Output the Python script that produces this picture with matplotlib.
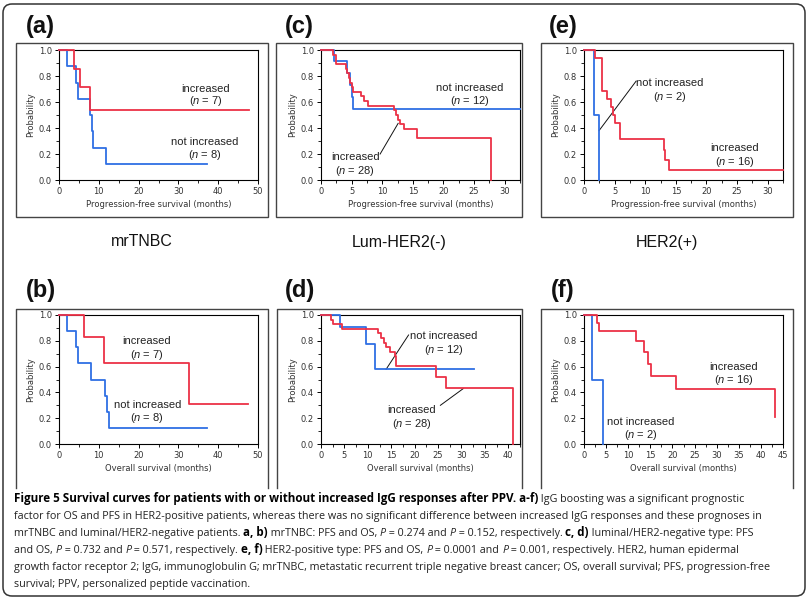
import matplotlib
matplotlib.use("Agg")
import matplotlib.pyplot as plt
from matplotlib.patches import FancyBboxPatch, Rectangle
from matplotlib.ticker import MultipleLocator, FormatStrFormatter

W, H = 811, 602
RED = "#ec3146"
BLUE = "#2f6fe4"
TXT = "#222222"

plt.rcParams["mathtext.fontset"] = "custom"
plt.rcParams["mathtext.rm"] = "Liberation Sans"
plt.rcParams["mathtext.it"] = "Liberation Sans:italic"

# ---- Kaplan-Meier steps (time in months, survival) ----
# (a) mrTNBC, PFS
a_inc_t = [0, 3.7, 5.3, 7.7]
a_inc_s = [1.0, 0.857, 0.714, 0.536]
a_inc_end = 47.7
a_not_t = [0, 2.1, 4.2, 4.8, 7.7, 8.2, 8.5, 11.7]
a_not_s = [1.0, 0.875, 0.75, 0.625, 0.5, 0.375, 0.25, 0.125]
a_not_end = 37.2

# (b) mrTNBC, OS
b_inc_t = [0, 6.2, 11.3, 32.6]
b_inc_s = [1.0, 0.833, 0.625, 0.3125]
b_inc_end = 47.6
b_not_t = [0, 2.1, 4.3, 4.7, 8.1, 11.6, 12.1, 12.6]
b_not_s = [1.0, 0.875, 0.75, 0.625, 0.5, 0.375, 0.25, 0.125]
b_not_end = 37.2

# (c) Lum-HER2(-), PFS
c_inc_t = [0, 2.0, 2.4, 4.1, 4.3, 4.6, 4.8, 5.0, 5.2, 6.6, 7.1, 7.7,
           12.0, 12.3, 12.5, 12.9, 13.6, 15.6, 27.8]
c_inc_s = [1.0, 0.964, 0.893, 0.857, 0.821, 0.786, 0.75, 0.714, 0.679, 0.643, 0.607, 0.571,
           0.536, 0.5, 0.464, 0.429, 0.393, 0.321, 0.0]
c_inc_end = 27.8
c_not_t = [0, 2.1, 4.2, 4.8, 5.0, 5.3]
c_not_s = [1.0, 0.917, 0.825, 0.733, 0.642, 0.545]
c_not_end = 32.5

# (d) Lum-HER2(-), OS
d_inc_t = [0, 2.1, 2.5, 4.4, 12.1, 12.8, 13.4, 13.9, 14.7, 15.7, 16.1, 24.6, 26.7, 40.9]
d_inc_s = [1.0, 0.964, 0.929, 0.893, 0.857, 0.821, 0.786, 0.75, 0.714, 0.679, 0.607, 0.52, 0.434, 0.0]
d_inc_end = 40.9
d_not_t = [0, 4.1, 9.6, 11.6]
d_not_s = [1.0, 0.909, 0.773, 0.579]
d_not_end = 32.6

# (e) HER2(+), PFS
e_inc_t = [0, 1.75, 2.95, 3.8, 4.4, 4.7, 5.0, 5.8, 5.9, 13.1, 13.3, 13.9]
e_inc_s = [1.0, 0.9375, 0.6875, 0.625, 0.5625, 0.5, 0.4375, 0.375, 0.3125, 0.234, 0.156, 0.078]
e_inc_end = 32.5
e_not_t = [0, 1.65, 2.4]
e_not_s = [1.0, 0.5, 0.0]
e_not_end = 2.4

# (f) HER2(+), OS
f_inc_t = [0, 2.9, 3.3, 11.7, 13.6, 14.5, 15.1, 20.9, 43.1]
f_inc_s = [1.0, 0.9375, 0.875, 0.795, 0.715, 0.62, 0.53, 0.427, 0.213]
f_inc_end = 43.1
f_not_t = [0, 1.75, 4.2]
f_not_s = [1.0, 0.5, 0.0]
f_not_end = 4.2

group_labels = ["mrTNBC", "Lum-HER2(-)", "HER2(+)"]

caption_lines = [
    [("Figure 5 Survival curves for patients with or without increased IgG responses after PPV. a-f)", "bold", "normal"),
     (" IgG boosting was a significant prognostic", "normal", "normal")],
    [("factor for OS and PFS in HER2-positive patients, whereas there was no significant difference between increased IgG responses and these prognoses in", "normal", "normal")],
    [("mrTNBC and luminal/HER2-negative patients. ", "normal", "normal"), ("a, b)", "bold", "normal"),
     (" mrTNBC: PFS and OS, ", "normal", "normal"), ("P", "normal", "italic"),
     (" = 0.274 and ", "normal", "normal"), ("P", "normal", "italic"),
     (" = 0.152, respectively. ", "normal", "normal"), ("c, d)", "bold", "normal"),
     (" luminal/HER2-negative type: PFS", "normal", "normal")],
    [("and OS, ", "normal", "normal"), ("P", "normal", "italic"), (" = 0.732 and ", "normal", "normal"),
     ("P", "normal", "italic"), (" = 0.571, respectively. ", "normal", "normal"), ("e, f)", "bold", "normal"),
     (" HER2-positive type: PFS and OS, ", "normal", "normal"), ("P", "normal", "italic"),
     (" = 0.0001 and ", "normal", "normal"), ("P", "normal", "italic"),
     (" = 0.001, respectively. HER2, human epidermal", "normal", "normal")],
    [("growth factor receptor 2; IgG, immunoglobulin G; mrTNBC, metastatic recurrent triple negative breast cancer; OS, overall survival; PFS, progression-free", "normal", "normal")],
    [("survival; PPV, personalized peptide vaccination.", "normal", "normal")],
]

PFS = "Progression-free survival (months)"
OS = "Overall survival (months)"

# layout in pixels: axes (left, top, right, bottom), frame (left, top, right, bottom)
panels = [
    dict(tag="(a)", lab=(26, 26), ax=(59, 50, 258, 180), frame=(16, 43, 268, 217), closed=True,
         xmax=50, major=10, xlabel=PFS,
         inc=(a_inc_t, a_inc_s, a_inc_end), nt=(a_not_t, a_not_s, a_not_end),
         notes=[(36.8, 0.70, 0.606, "increased", 7), (36.6, 0.296, 0.193, "not increased", 8)],
         leaders=[]),
    dict(tag="(c)", lab=(285, 26), ax=(321, 50, 520, 180), frame=(276, 43, 522, 217), closed=True,
         xmax=32.5, major=5, xlabel=PFS,
         inc=(c_inc_t, c_inc_s, c_inc_end), nt=(c_not_t, c_not_s, c_not_end),
         notes=[(24.3, 0.705, 0.61, "not increased", 12), (5.6, 0.174, 0.072, "increased", 28)],
         leaders=[((9.66, 0.20), (12.6, 0.436))]),
    dict(tag="(e)", lab=(549, 26), ax=(584, 50, 783, 180), frame=(541, 43, 793, 217), closed=True,
         xmax=32.5, major=5, xlabel=PFS,
         inc=(e_inc_t, e_inc_s, e_inc_end), nt=(e_not_t, e_not_s, e_not_end),
         notes=[(14.0, 0.749, 0.636, "not increased", 2), (24.6, 0.249, 0.141, "increased", 16)],
         leaders=[((8.5, 0.76), (2.46, 0.38))]),
    dict(tag="(b)", lab=(26, 291), ax=(59, 315, 258, 444), frame=(16, 309, 268, 488), closed=False,
         xmax=50, major=10, xlabel=OS,
         inc=(b_inc_t, b_inc_s, b_inc_end), nt=(b_not_t, b_not_s, b_not_end),
         notes=[(22.1, 0.80, 0.69, "increased", 7), (22.2, 0.30, 0.20, "not increased", 8)],
         leaders=[]),
    dict(tag="(d)", lab=(285, 291), ax=(321, 315, 520, 444), frame=(277, 309, 522, 488), closed=False,
         xmax=42.5, major=5, xlabel=OS,
         inc=(d_inc_t, d_inc_s, d_inc_end), nt=(d_not_t, d_not_s, d_not_end),
         notes=[(26.2, 0.84, 0.73, "not increased", 12), (19.4, 0.264, 0.152, "increased", 28)],
         leaders=[((18.7, 0.845), (13.9, 0.579)), ((25.5, 0.30), (30.4, 0.43))]),
    dict(tag="(f)", lab=(551, 291), ax=(584, 315, 783, 444), frame=(541, 309, 793, 488), closed=False,
         xmax=45, major=5, xlabel=OS,
         inc=(f_inc_t, f_inc_s, f_inc_end), nt=(f_not_t, f_not_s, f_not_end),
         notes=[(33.9, 0.60, 0.496, "increased", 16), (12.8, 0.168, 0.07, "not increased", 2)],
         leaders=[]),
]


def km(ax, t, s, end, color):
    ax.step(list(t) + [end], list(s) + [s[-1]], where="post", color=color, lw=1.3,
            zorder=3, clip_on=False)


def plot_panel(fig, p):
    l, t, r, b = p["ax"]
    ax = fig.add_axes([l / W, 1 - b / H, (r - l) / W, (b - t) / H])
    km(ax, *p["nt"], BLUE)
    km(ax, *p["inc"], RED)
    ax.set_xlim(0, p["xmax"])
    ax.set_ylim(0, 1)
    ax.xaxis.set_major_locator(MultipleLocator(p["major"]))
    ax.xaxis.set_minor_locator(MultipleLocator(p["major"] / 2))
    ax.yaxis.set_major_locator(MultipleLocator(0.2))
    ax.yaxis.set_minor_locator(MultipleLocator(0.1))
    ax.yaxis.set_major_formatter(FormatStrFormatter("%.1f"))
    ax.tick_params(which="major", length=3, width=0.7, pad=2, labelsize=6, labelcolor="#333333")
    ax.tick_params(which="minor", length=2, width=0.6)
    for sp in ax.spines.values():
        sp.set_linewidth(0.8)
    ax.set_xlabel(p["xlabel"], fontsize=6, color="#333333", labelpad=3)
    ax.set_ylabel("Probability", fontsize=6, color="#333333", labelpad=3)
    for x, y1, y2, name, n in p["notes"]:
        ax.text(x, y1, name, ha="center", va="center", fontsize=8, family="Liberation Sans", color=TXT)
        ax.text(x, y2, r"($\mathit{n}$ = %d)" % n, ha="center", va="center", fontsize=8,
                family="Liberation Sans", color=TXT)
    for (x0, y0), (x1, y1) in p["leaders"]:
        ax.plot([x0, x1], [y0, y1], color="#111111", lw=0.7)
    return ax


def text_width(ax, s, renderer, **kw):
    t1 = ax.text(0, 0, s + "|", **kw)
    t2 = ax.text(0, 0, "|", **kw)
    w = t1.get_window_extent(renderer).width - t2.get_window_extent(renderer).width
    t1.remove()
    t2.remove()
    return w


def main():
    fig = plt.figure(figsize=(W / 100, H / 100), dpi=100)
    ov = fig.add_axes([0, 0, 1, 1])
    ov.set_xlim(0, W)
    ov.set_ylim(H, 0)
    ov.axis("off")

    ov.add_patch(FancyBboxPatch((3, 4), 802, 592, boxstyle="round,pad=0,rounding_size=9",
                                fill=False, ec="#333333", lw=1.1))
    for p in panels:
        l, t, r, b = p["frame"]
        if p["closed"]:
            ov.add_patch(Rectangle((l, t), r - l, b - t, fill=False, ec="#444444", lw=1.0))
        else:
            ov.plot([l, l, r, r], [b, t, t, b], color="#444444", lw=1.0)
        ov.text(p["lab"][0], p["lab"][1], p["tag"], fontsize=17, weight="bold",
                family="Liberation Sans", ha="left", va="center", color="#111111")
        plot_panel(fig, p)

    for cx, name in zip([142, 399, 667], group_labels):
        ov.text(cx, 242, name, fontsize=11.5, family="Liberation Sans", ha="center", va="center",
                color="#111111")

    # caption, set segment by segment so bold / italic runs line up
    cap_font = "Open Sans"
    rend = fig.canvas.get_renderer()
    w_ref = text_width(ov, caption_lines[1][0][0], rend, fontsize=10, family=cap_font)
    size = 10 * 752 / w_ref
    for i, parts in enumerate(caption_lines):
        x = 14
        y = 502 + 17 * i
        for s, weight, style in parts:
            fs = size * 1.08 if weight == "bold" else size
            kw = dict(fontsize=fs, family=cap_font, weight=weight, style=style)
            ov.text(x, y, s, ha="left", va="baseline",
                    color="#000000" if weight == "bold" else TXT, **kw)
            x += text_width(ov, s, rend, **kw)

    fig.savefig("out.png", dpi=100)


if __name__ == "__main__":
    main()
